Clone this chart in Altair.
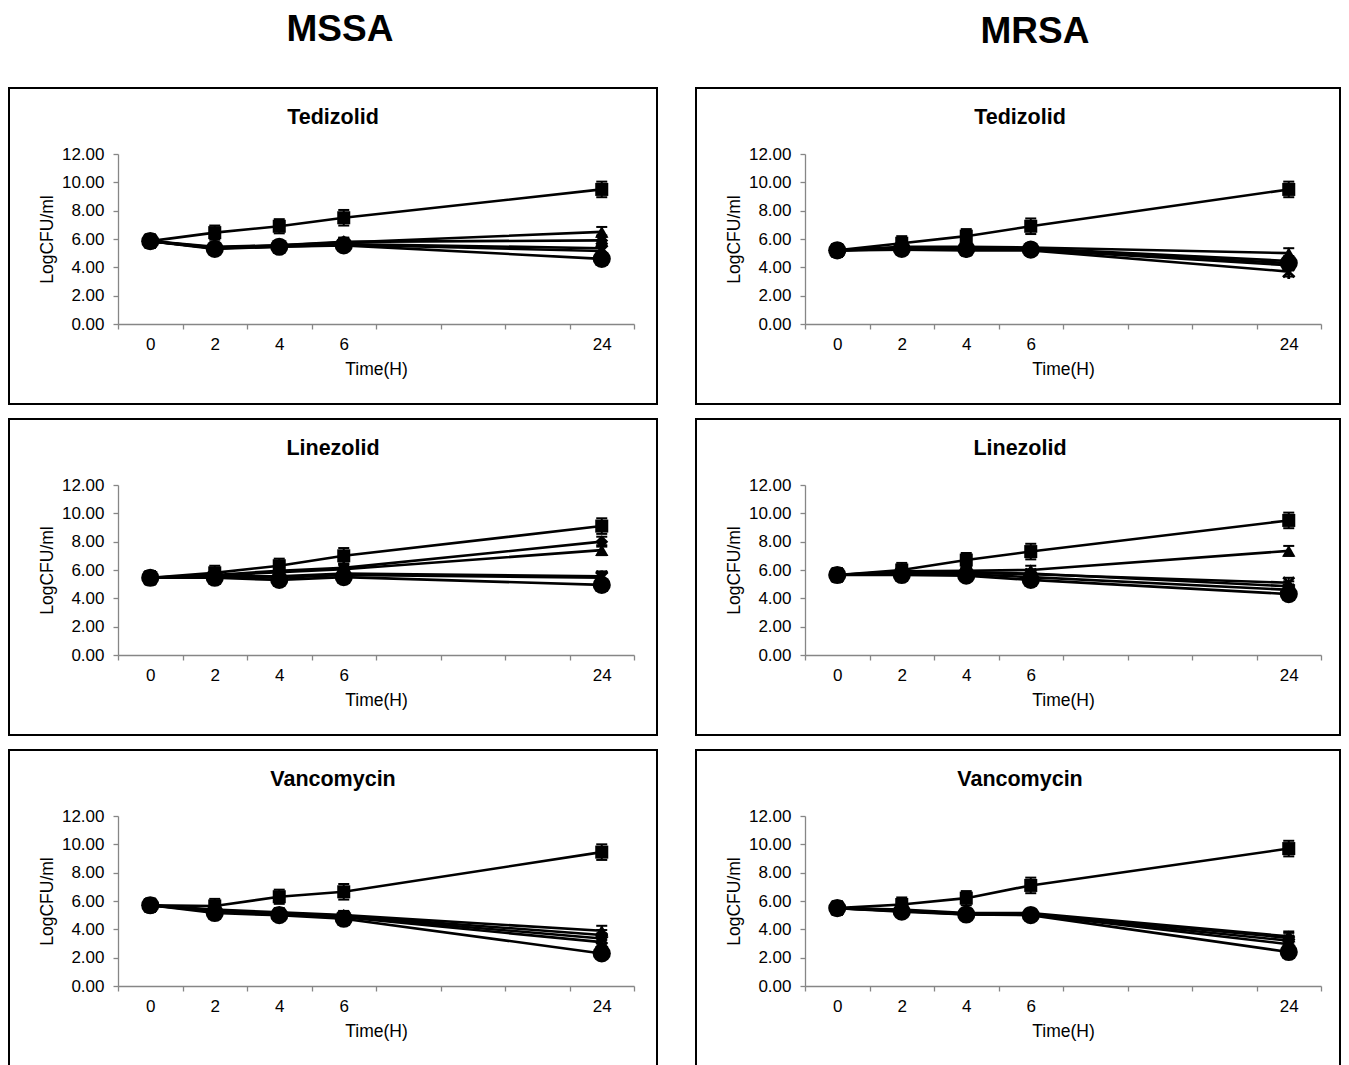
import altair as alt
import pandas as pd

FONT = "Liberation Sans"

TIME_LABELS = ["0", "2", "4", "6", "24"]
X_SLOTS = ["0", "2", "4", "6", " ", "  ", "   ", "24"]
Y_TICKS = [0, 2, 4, 6, 8, 10, 12]
SERIES = ["diamond", "square", "triangle", "cross", "star", "circle"]

MSSA_TEDIZOLID = {
    "square":   [5.85, 6.45, 6.90, 7.50, 9.50],
    "diamond":  [5.85, 5.45, 5.55, 5.80, 5.90],
    "triangle": [5.85, 5.40, 5.55, 5.75, 6.50],
    "cross":    [5.85, 5.35, 5.50, 5.65, 5.35],
    "star":     [5.85, 5.35, 5.45, 5.60, 5.15],
    "circle":   [5.85, 5.30, 5.45, 5.55, 4.60],
}
MRSA_TEDIZOLID = {
    "square":   [5.20, 5.70, 6.20, 6.90, 9.50],
    "diamond":  [5.20, 5.40, 5.40, 5.35, 4.45],
    "triangle": [5.20, 5.45, 5.45, 5.40, 5.00],
    "cross":    [5.20, 5.35, 5.30, 5.25, 4.15],
    "star":     [5.20, 5.25, 5.20, 5.20, 3.70],
    "circle":   [5.20, 5.30, 5.30, 5.25, 4.30],
}
MSSA_LINEZOLID = {
    "square":   [5.45, 5.80, 6.30, 7.00, 9.10],
    "diamond":  [5.45, 5.65, 5.95, 6.15, 8.00],
    "triangle": [5.45, 5.60, 5.85, 6.05, 7.40],
    "cross":    [5.45, 5.55, 5.55, 5.75, 5.55],
    "star":     [5.45, 5.55, 5.45, 5.65, 5.45],
    "circle":   [5.45, 5.45, 5.30, 5.50, 4.95],
}
MRSA_LINEZOLID = {
    "square":   [5.65, 6.00, 6.70, 7.30, 9.50],
    "diamond":  [5.65, 5.85, 5.85, 5.75, 4.85],
    "triangle": [5.65, 5.90, 5.95, 6.00, 7.35],
    "cross":    [5.65, 5.80, 5.80, 5.70, 5.10],
    "star":     [5.65, 5.75, 5.70, 5.50, 4.60],
    "circle":   [5.65, 5.65, 5.60, 5.30, 4.30],
}
MSSA_VANCOMYCIN = {
    "square":   [5.70, 5.65, 6.30, 6.65, 9.45],
    "diamond":  [5.70, 5.35, 5.15, 4.95, 3.60],
    "triangle": [5.70, 5.40, 5.20, 5.00, 3.90],
    "cross":    [5.70, 5.30, 5.10, 4.90, 3.35],
    "star":     [5.70, 5.25, 5.05, 4.85, 3.10],
    "circle":   [5.70, 5.15, 5.00, 4.75, 2.30],
}
MRSA_VANCOMYCIN = {
    "square":   [5.50, 5.75, 6.20, 7.10, 9.70],
    "diamond":  [5.50, 5.35, 5.10, 5.10, 3.40],
    "triangle": [5.50, 5.40, 5.15, 5.15, 3.50],
    "cross":    [5.50, 5.30, 5.10, 5.05, 3.20],
    "star":     [5.50, 5.30, 5.05, 5.05, 2.95],
    "circle":   [5.50, 5.25, 5.05, 5.00, 2.40],
}
SQUARE_ERR = [0.45, 0.50, 0.50, 0.55, 0.55]
OTHER_ERR = [0.45, 0.30, 0.30, 0.30, 0.35]

MARKERS = {
    "diamond": dict(shape="diamond", filled=True, size=170),
    "square": dict(shape="square", filled=True, size=170),
    "triangle": dict(shape="triangle-up", filled=True, size=180),
    "cross": dict(shape="M-1,-1L1,1M-1,1L1,-1", filled=False, size=120, strokeWidth=2.8),
    "star": dict(shape="M-1,-1L1,1M-1,1L1,-1M0,-1.3L0,1.3", filled=False, size=130, strokeWidth=2.8),
    "circle": dict(shape="circle", filled=True, size=330),
}
DEFAULT_ORDER = ["diamond", "square", "triangle", "cross", "star", "circle"]
STAR_ON_TOP = ["diamond", "square", "triangle", "circle", "cross", "star"]


def long_frame(panel):
    rows = []
    for s in SERIES:
        for i, (t, v) in enumerate(zip(TIME_LABELS, panel[s])):
            e = SQUARE_ERR[i] if s == "square" else OTHER_ERR[i]
            rows.append(dict(series=s, t=t, idx=i, v=v, lo=v - e, hi=v + e))
    return pd.DataFrame(rows)


ONE = pd.DataFrame({"k": [0]})

X_ENC = alt.X(
    "t:O",
    scale=alt.Scale(type="band", domain=X_SLOTS, paddingInner=0, paddingOuter=0),
    axis=alt.Axis(title="Time(H)", tickBand="extent", labelAngle=0, labelPadding=7,
                  titlePadding=8),
)
Y_SCALE = alt.Scale(domain=[0, 12], nice=False, zero=True)
Y_AXIS = alt.Axis(title="LogCFU/ml", values=Y_TICKS, format=".2f", labelPadding=9,
                  titlePadding=5)


def panel(data, title, col_title=None, col_x=0, col_y=0, order=DEFAULT_ORDER,
          frame_right=539):
    df = long_frame(data)
    base = alt.Chart(df)
    frame = alt.Chart(ONE).mark_rect(fillOpacity=0, stroke="black", strokeWidth=2).encode(
        x=alt.value(-109), x2=alt.value(frame_right), y=alt.value(-66), y2=alt.value(250)
    )
    ttl = alt.Chart(ONE).mark_text(
        text=title, font=FONT, fontSize=21.5, fontWeight="bold", align="center",
        baseline="alphabetic", color="black"
    ).encode(x=alt.value(215), y=alt.value(-30))
    lines = base.mark_line(color="black", strokeWidth=2.6).encode(
        x=X_ENC, y=alt.Y("v:Q", scale=Y_SCALE, axis=Y_AXIS),
        detail="series:N", order="idx:Q",
    )
    rules = base.mark_rule(color="black", strokeWidth=2).encode(
        x=X_ENC, y=alt.Y("lo:Q", scale=Y_SCALE, axis=Y_AXIS), y2="hi:Q"
    )
    cap_lo = base.mark_tick(color="black", size=11, thickness=2, opacity=1).encode(
        x=X_ENC, y=alt.Y("lo:Q", scale=Y_SCALE, axis=Y_AXIS)
    )
    cap_hi = base.mark_tick(color="black", size=11, thickness=2, opacity=1).encode(
        x=X_ENC, y=alt.Y("hi:Q", scale=Y_SCALE, axis=Y_AXIS)
    )
    points = []
    for s in order:
        m = MARKERS[s]
        points.append(
            base.transform_filter(alt.datum.series == s)
            .mark_point(color="black", opacity=1, **m)
            .encode(x=X_ENC, y=alt.Y("v:Q", scale=Y_SCALE, axis=Y_AXIS))
        )
    layers = [frame, ttl]
    if col_title:
        layers.append(
            alt.Chart(ONE).mark_text(
                text=col_title, font=FONT, fontSize=37, fontWeight="bold",
                align="center", baseline="alphabetic", color="black"
            ).encode(x=alt.value(col_x), y=alt.value(col_y))
        )
    layers += [lines, rules, cap_lo, cap_hi] + points
    return alt.layer(*layers).properties(width=516, height=170)


row1 = alt.hconcat(
    panel(MSSA_TEDIZOLID, "Tedizolid", "MSSA", 222, -113),
    panel(MRSA_TEDIZOLID, "Tedizolid", "MRSA", 230, -111, order=STAR_ON_TOP,
          frame_right=535),
    spacing=37,
)
row2 = alt.hconcat(
    panel(MSSA_LINEZOLID, "Linezolid"),
    panel(MRSA_LINEZOLID, "Linezolid", frame_right=535),
    spacing=37,
)
row3 = alt.hconcat(
    panel(MSSA_VANCOMYCIN, "Vancomycin"),
    panel(MRSA_VANCOMYCIN, "Vancomycin", frame_right=535),
    spacing=37,
)

chart = (
    alt.vconcat(row1, row2, row3, spacing=13)
    .properties(padding={"left": 0, "top": 3, "right": 0, "bottom": 0})
    .configure_view(strokeWidth=0)
    .configure_axis(
        grid=False,
        domainColor="#868686",
        tickColor="#868686",
        domainWidth=1.3,
        tickWidth=1.3,
        tickSize=5,
        labelColor="black",
        titleColor="black",
        labelFont=FONT,
        titleFont=FONT,
        labelFontSize=17,
        titleFontSize=17.5,
        titleFontWeight="normal",
    )
)

chart.save("out.html", embed_options={"renderer": "svg", "actions": False})
